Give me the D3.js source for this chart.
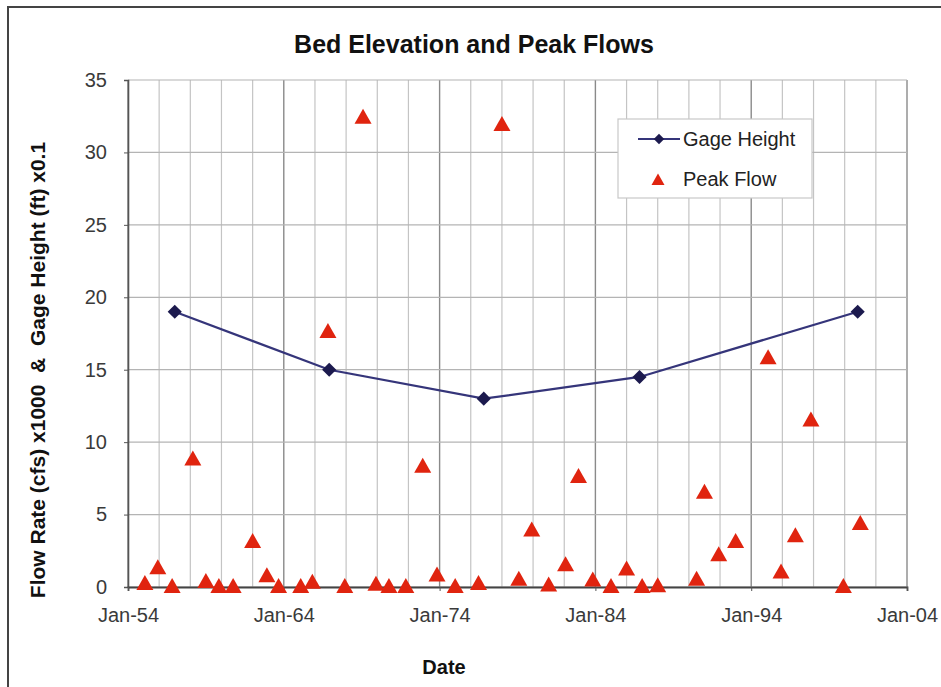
<!DOCTYPE html>
<html>
<head>
<meta charset="utf-8">
<script src="https://cdn.jsdelivr.net/npm/d3@7/dist/d3.min.js"></script>
<style>
  html, body { margin: 0; padding: 0; background: #fff; }
  svg { display: block; font-family: "Liberation Sans", Arial, sans-serif; }
</style>
</head>
<body>
<svg id="chart" width="941" height="687"></svg>
<script>
// ---- Data ----
const chartTitle = "Bed Elevation and Peak Flows";
const xAxisTitle = "Date";
const yAxisTitle = "Flow Rate (cfs) x1000  &  Gage Height (ft) x0.1";
const seriesNames = ["Gage Height", "Peak Flow"];

const gageDates = ["1957-01", "1966-12", "1976-11", "1986-11", "2000-11"];
const gageValues = [19, 15, 13, 14.5, 19];

const peakDates = [
  "1955-02", "1955-12", "1956-11", "1958-03", "1959-01", "1959-11", "1960-10",
  "1962-01", "1962-12", "1963-09", "1965-02", "1965-11", "1966-11", "1967-12",
  "1969-02", "1969-12", "1970-10", "1971-11", "1972-12", "1973-11", "1975-01",
  "1976-07", "1978-01", "1979-02", "1979-12", "1981-01", "1982-02", "1982-12",
  "1983-11", "1985-01", "1986-01", "1987-01", "1988-01", "1990-07", "1991-01",
  "1991-12", "1993-01", "1995-02", "1995-12", "1996-11", "1997-11", "1999-12",
  "2001-01"
];
const peakValues = [
  0.2, 1.3, 0, 8.8, 0.35, 0, 0,
  3.1, 0.75, 0, 0, 0.3, 17.6, 0,
  32.4, 0.15, 0, 0, 8.3, 0.8, 0,
  0.2, 31.9, 0.5, 3.9, 0.1, 1.5, 7.6,
  0.45, 0, 1.2, 0, 0.05, 0.5, 6.5,
  2.2, 3.1, 15.8, 1.0, 3.5, 11.5, 0,
  4.35
];

const xDomain = ["1954-01", "2004-01"];
const xMajorTicks = ["1954-01", "1964-01", "1974-01", "1984-01", "1994-01", "2004-01"];
const yTicks = [0, 5, 10, 15, 20, 25, 30, 35];
const yDomain = [0, 35];

// ---- Setup ----
const parse = d3.timeParse("%Y-%m");
const svg = d3.select("#chart");
const W = 941, H = 687;
const plot = { left: 128, right: 907, top: 80, bottom: 587 };

const x = d3.scaleTime().domain(xDomain.map(parse)).range([plot.left, plot.right]);
const y = d3.scaleLinear().domain(yDomain).range([plot.bottom, plot.top]);

// outer frame
svg.append("rect").attr("x", 0).attr("y", 0).attr("width", W).attr("height", H).attr("fill", "#fff");
svg.append("rect").attr("x", 8).attr("y", 7).attr("width", W + 20).attr("height", H + 20)
  .attr("fill", "none").attr("stroke", "#444").attr("stroke-width", 2);

// gridlines
const minorTicks = x.ticks(d3.timeYear.every(2));
const majorSet = new Set(xMajorTicks.map(s => +parse(s)));
svg.append("g").selectAll("line").data(minorTicks.filter(d => !majorSet.has(+d)))
  .join("line")
  .attr("x1", d => x(d)).attr("x2", d => x(d))
  .attr("y1", plot.top).attr("y2", plot.bottom)
  .attr("stroke", "#c4c4c4").attr("stroke-width", 1.2);
svg.append("g").selectAll("line").data(xMajorTicks.map(parse))
  .join("line")
  .attr("x1", d => x(d)).attr("x2", d => x(d))
  .attr("y1", plot.top).attr("y2", plot.bottom)
  .attr("stroke", "#8a8a8a").attr("stroke-width", 1.4);
svg.append("g").selectAll("line").data(yTicks)
  .join("line")
  .attr("x1", plot.left).attr("x2", plot.right)
  .attr("y1", d => y(d)).attr("y2", d => y(d))
  .attr("stroke", "#b4b4b4").attr("stroke-width", 1.2);

// axes
const yAxis = d3.axisLeft(y).tickValues(yTicks).tickSize(4).tickPadding(17);
const gy = svg.append("g").attr("transform", `translate(${plot.left},0)`).call(yAxis);
gy.select(".domain").attr("stroke", "#555").attr("stroke-width", 1.6);
gy.selectAll(".tick line").attr("stroke", "#555");
gy.selectAll("text").attr("font-size", 20).attr("fill", "#3a3a3a")
  .attr("font-family", "'Liberation Sans', Arial, sans-serif");

const xAxis = d3.axisBottom(x).tickValues(xMajorTicks.map(parse))
  .tickFormat(d3.timeFormat("%b-%y")).tickSize(4).tickPadding(17);
const gx = svg.append("g").attr("transform", `translate(0,${plot.bottom})`).call(xAxis);
gx.select(".domain").attr("stroke", "#444").attr("stroke-width", 1.8);
gx.selectAll(".tick line").attr("stroke", "#555");
gx.selectAll("text").attr("font-size", 20).attr("fill", "#3a3a3a")
  .attr("font-family", "'Liberation Sans', Arial, sans-serif");

// Series data
const gageData = gageDates.map((d, i) => ({ date: parse(d), value: gageValues[i] }));
const peakData = peakDates.map((d, i) => ({ date: parse(d), value: peakValues[i] }));

const lineColor = "#35357a";
const diamondColor = "#1c1a4e";
const triColor = "#e0240f";

svg.append("path").datum(gageData)
  .attr("d", d3.line().x(d => x(d.date)).y(d => y(d.value)))
  .attr("fill", "none").attr("stroke", lineColor).attr("stroke-width", 2.2);

svg.append("g").selectAll("path").data(gageData).join("path")
  .attr("d", d3.symbol().type(d3.symbolSquare).size(100)())
  .attr("transform", d => `translate(${x(d.date)},${y(d.value)}) rotate(45)`)
  .attr("fill", diamondColor);

// Peak flow triangles
const tri = "M0,-9L8.5,6L-8.5,6Z";
svg.append("g").selectAll("path").data(peakData).join("path")
  .attr("d", tri)
  .attr("transform", d => `translate(${x(d.date)},${y(d.value)})`)
  .attr("fill", triColor);

// Legend
const lg = svg.append("g");
lg.append("rect").attr("x", 618).attr("y", 119).attr("width", 194).attr("height", 79)
  .attr("fill", "#fff").attr("stroke", "#c8c8c8").attr("stroke-width", 1.2);
lg.append("line").attr("x1", 638).attr("x2", 680).attr("y1", 139).attr("y2", 139)
  .attr("stroke", lineColor).attr("stroke-width", 2.2);
lg.append("path").attr("d", d3.symbol().type(d3.symbolSquare).size(55)())
  .attr("transform", "translate(659,139) rotate(45)").attr("fill", diamondColor);
lg.append("path").attr("d", "M0,-6.5L6.5,5L-6.5,5Z")
  .attr("transform", "translate(658,180)").attr("fill", triColor);
lg.append("text").attr("x", 683).attr("y", 146).text(seriesNames[0])
  .attr("font-size", 20).attr("fill", "#222");
lg.append("text").attr("x", 683).attr("y", 186).text(seriesNames[1])
  .attr("font-size", 20).attr("fill", "#222");

// Titles
svg.append("text").attr("x", 474).attr("y", 53).attr("text-anchor", "middle")
  .attr("font-size", 25).attr("font-weight", "bold").attr("fill", "#111").text(chartTitle);
svg.append("text").attr("x", 444).attr("y", 674).attr("text-anchor", "middle")
  .attr("font-size", 20).attr("font-weight", "bold").attr("fill", "#111").text(xAxisTitle);
svg.append("text").attr("transform", "translate(45,370) rotate(-90)")
  .attr("text-anchor", "middle").attr("font-size", 21).attr("font-weight", "bold")
  .attr("fill", "#111").attr("xml:space", "preserve").style("white-space", "pre")
  .text(yAxisTitle);
</script>
</body>
</html>
